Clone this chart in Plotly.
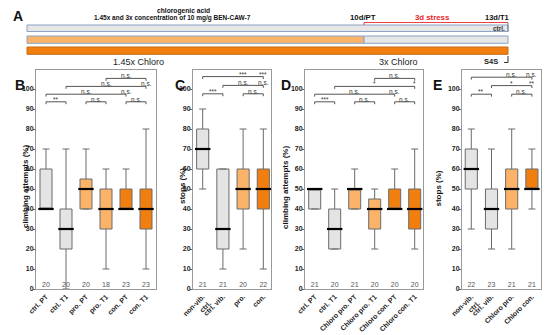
import plotly.graph_objects as go

W, H = 550, 335

# ---------------- data ----------------
b_cats = ["ctrl. PT", "ctrl. T1", "pro. PT", "pro. T1", "con. PT", "con. T1"]
b_min = [40, 0, 40, 10, 40, 10]
b_q1 = [40, 20, 40, 30, 40, 30]
b_med = [40, 30, 50, 40, 40, 40]
b_q3 = [60, 40, 55, 50, 50, 50]
b_max = [70, 70, 70, 60, 60, 80]
b_n = [20, 20, 20, 18, 23, 23]
b_grp = ["ctrl", "ctrl", "pro", "pro", "con", "con"]

c_cats = ["non-vib.<br>ctrl.", "ctrl. vib.", "pro.", "con."]
c_min = [50, 10, 20, 10]
c_q1 = [60, 20, 40, 40]
c_med = [70, 30, 50, 50]
c_q3 = [80, 60, 60, 60]
c_max = [90, 60, 80, 80]
c_n = [21, 21, 20, 22]
c_grp = ["ctrl", "ctrl", "pro", "con"]

d_cats = ["ctrl. PT", "ctrl. T1", "Chloro pro. PT", "Chloro pro. T1", "Chloro con. PT", "Chloro con. T1"]
d_min = [40, 20, 40, 20, 40, 20]
d_q1 = [40, 20, 40, 30, 40, 30]
d_med = [50, 30, 50, 40, 40, 40]
d_q3 = [50, 40, 50, 45, 50, 50]
d_max = [50, 50, 60, 50, 60, 70]
d_n = [21, 20, 21, 20, 20, 20]
d_grp = ["ctrl", "ctrl", "pro", "pro", "con", "con"]

e_cats = ["non-vib.<br>ctrl.", "ctrl. vib.", "Chloro pro.", "Chloro con."]
e_min = [30, 20, 20, 40]
e_q1 = [50, 30, 40, 50]
e_med = [60, 40, 50, 50]
e_q3 = [70, 50, 60, 60]
e_max = [80, 70, 80, 70]
e_n = [22, 23, 21, 21]
e_grp = ["ctrl", "ctrl", "pro", "con"]

# significance comparisons: (from index, to index, level, [(label position, label)])
b_sig = [(0, 1, 0, [(0.5, "**")]), (2, 3, 0, [(2.5, "n.s.")]), (4, 5, 0, [(4.5, "n.s.")]),
         (0, 4, 1, [(2, "n.s."), (4, "n.s.")]), (1, 5, 2, [(3, "n.s."), (5, "n.s.")]),
         (3, 5, 3, [(4, "n.s.")])]
c_sig = [(0, 1, 0, [(0.5, "***")]), (2, 3, 0, [(2.5, "n.s.")]),
         (1, 3, 1, [(2, "n.s."), (3, "n.s.")]), (0, 3, 2, [(2, "***"), (3, "***")])]
d_sig = [(0, 1, 0, [(0.5, "***")]), (2, 3, 0, [(2.5, "n.s.")]), (4, 5, 0, [(4.5, "n.s.")]),
         (0, 4, 1, [(2, "n.s."), (4, "n.s.")]), (1, 5, 2, [(3, "*"), (5, "*")]),
         (3, 5, 3, [(4, "n.s.")])]
e_sig = [(0, 1, 0, [(0.5, "**")]), (2, 3, 0, [(2.5, "n.s.")]),
         (1, 3, 1, [(2, "*"), (3, "**")]), (0, 3, 2, [(2, "n.s."), (3, "n.s.")])]

# ---------------- styling ----------------
COL = {"ctrl": "#E4E4E4", "pro": "#FBB36A", "con": "#F07F10"}
FONT = "Arial, Liberation Sans, sans-serif"
OX, OY = 8, 8  # page offset of the plot div (body margin)

def px(x):
    return (x - OX) / W

def py(y):
    return 1 - (y - OY) / H

panels = [
    dict(cats=b_cats, mn=b_min, q1=b_q1, med=b_med, q3=b_q3, mx=b_max, n=b_n, grp=b_grp,
         sig=b_sig, levels=[93.6, 97.4, 101.3, 105.3], dom=(36, 156), rng=[-0.5, 5.5],
         title="climbing attempts (%)", tx=18.5, ty=187, letter="B", lx=13.5),
    dict(cats=c_cats, mn=c_min, q1=c_q1, med=c_med, q3=c_q3, mx=c_max, n=c_n, grp=c_grp,
         sig=c_sig, levels=[97.6, 101.8, 106.2], dom=(193, 271), rng=[-0.48, 3.38],
         title="stops (%)", tx=175.5, ty=186, letter="C", lx=174),
    dict(cats=d_cats, mn=d_min, q1=d_q1, med=d_med, q3=d_q3, mx=d_max, n=d_n, grp=d_grp,
         sig=d_sig, levels=[93.6, 97.4, 101.3, 105.3], dom=(305, 423), rng=[-0.485, 5.415],
         title="climbing attempts (%)", tx=285, ty=188, letter="D", lx=286),
    dict(cats=e_cats, mn=e_min, q1=e_q1, med=e_med, q3=e_q3, mx=e_max, n=e_n, grp=e_grp,
         sig=e_sig, levels=[97.4, 101.7, 105.9], dom=(462, 541), rng=[-0.46, 3.45],
         title="stops (%)", tx=444, ty=189, letter="E", lx=442.5),
]

fig = go.Figure()
shapes = []
annotations = []
YTOP, YBOT = 70, 289

for i, p in enumerate(panels):
    sfx = "" if i == 0 else str(i + 1)
    xa, ya = "x" + sfx, "y" + sfx
    for k, cat in enumerate(p["cats"]):
        fig.add_trace(go.Box(
            x=[cat], q1=[p["q1"][k]], median=[p["med"][k]], q3=[p["q3"][k]],
            lowerfence=[p["mn"][k]], upperfence=[p["mx"][k]],
            fillcolor=COL[p["grp"][k]], line=dict(color="#6a6a6a", width=1),
            width=0.6, whiskerwidth=0.58, boxpoints=False, hoverinfo="skip",
            xaxis=xa, yaxis=ya))
    fig.add_trace(go.Scatter(
        x=p["cats"], y=p["med"], mode="markers",
        marker=dict(symbol="line-ew", size=11, line=dict(color="black", width=2.2)),
        hoverinfo="skip", xaxis=xa, yaxis=ya))
    fig.add_trace(go.Scatter(
        x=p["cats"], y=[2.0] * len(p["cats"]), mode="text",
        text=[str(v) for v in p["n"]], textfont=dict(size=7, color="#555", family=FONT),
        hoverinfo="skip", xaxis=xa, yaxis=ya))
    for (a, b, lev, labels) in p["sig"]:
        yv = p["levels"][lev]
        shapes.append(dict(type="line", xref=xa, yref=ya, x0=a, x1=b, y0=yv, y1=yv,
                           line=dict(color="#555", width=1)))
        for e in (a, b):
            shapes.append(dict(type="line", xref=xa, yref=ya, x0=e, x1=e, y0=yv, y1=yv - 1.2,
                               line=dict(color="#555", width=1)))
        for (pos, txt_) in labels:
            annotations.append(dict(x=pos, y=yv, xref=xa, yref=ya, text=txt_, showarrow=False,
                                    yanchor="bottom", yshift=-3,
                                    font=dict(size=6.5, color="#333", family=FONT)))
    dom = [px(p["dom"][0]), px(p["dom"][1])]
    fig.layout["xaxis" + sfx] = dict(
        domain=dom, anchor=ya, type="category", categoryorder="array", categoryarray=p["cats"],
        range=p["rng"], tickangle=-45, ticks="", showgrid=False, zeroline=False,
        showline=True, mirror=True, linecolor="#999", linewidth=1, automargin=False,
        tickfont=dict(size=7, color="#222", family=FONT, weight="bold"))
    fig.layout["yaxis" + sfx] = dict(
        domain=[py(YBOT), py(YTOP)], anchor=xa, range=[0, 109.5], automargin=False,
        tickvals=list(range(0, 101, 10)), ticks="outside", ticklen=2, tickcolor="#666",
        ticklabelstandoff=-2,
        showgrid=False, zeroline=False, showline=True, mirror=True, linecolor="#999", linewidth=1,
        tickfont=dict(size=7, color="#222", family=FONT, weight="bold"))
    annotations.append(dict(x=px(p["tx"]), y=py(p["ty"]), xref="paper", yref="paper",
                            text=p["title"], textangle=-90, showarrow=False,
                            font=dict(size=8, color="#111", family=FONT, weight="bold")))
    annotations.append(dict(x=px(p["lx"]), y=py(76.5), xref="paper", yref="paper",
                            text=p["letter"], showarrow=False, borderpad=0,
                            font=dict(size=14, color="#111", family=FONT, weight="bold")))

# ---------------- panel A schematic ----------------
def rect(x0, y0, x1, y1, fill, line):
    shapes.append(dict(type="rect", xref="paper", yref="paper", x0=px(x0), x1=px(x1),
                       y0=py(y1), y1=py(y0), fillcolor=fill, line=dict(color=line, width=1),
                       layer="above"))

def seg(x0, y0, x1, y1, color, w=1):
    shapes.append(dict(type="line", xref="paper", yref="paper", x0=px(x0), x1=px(x1),
                       y0=py(y0), y1=py(y1), line=dict(color=color, width=w)))

def txt(x, y, s, size=7.5, color="#111", bold=True, xanchor="center"):
    annotations.append(dict(x=px(x), y=py(y), xref="paper", yref="paper", text=s,
                            showarrow=False, xanchor=xanchor, yanchor="middle", borderpad=0,
                            font=dict(size=size, color=color, family=FONT,
                                      weight="bold" if bold else "normal")))

rect(27, 25, 508, 31.5, "#E6E6E6", "#8AA3C6")
rect(27, 36, 364, 43.3, "#FBB36A", "#8AA3C6")
rect(364, 36, 508, 43.3, "#E6E6E6", "#8AA3C6")
rect(27, 47, 508, 54.3, "#F07F10", "#C86A10")
seg(364, 22.5, 508, 22.5, "#F04040", 1)
seg(364, 22.5, 364, 25, "#F04040", 1)
seg(508, 22.5, 508, 31.5, "#777", 1)
seg(508, 56, 508, 62.5, "#333", 1)
seg(504, 62.5, 508, 62.5, "#333", 1)

txt(18, 16, "A", size=14)
txt(183, 10.5, "chlorogenic acid", size=6.7)
txt(172, 18, "1.45x and 3x concentration of 10 mg/g BEN-CAW-7", size=6.5)
txt(363, 17.5, "10d/PT", size=7.8)
txt(432, 17.5, "3d stress", size=7.8, color="#E8232A")
txt(497, 17.5, "13d/T1", size=7.5)
txt(506, 28.3, "ctrl.", size=6.5, color="#333", xanchor="right")
txt(499, 61.5, "S4S", size=7.5, color="#222", xanchor="right")
txt(138, 62, "1.45x Chloro", size=9, color="#222", bold=False)
txt(398, 62, "3x Chloro", size=9, color="#222", bold=False)

fig.update_layout(
    width=W, height=H, margin=dict(l=0, r=0, t=0, b=0, pad=0), autosize=False,
    paper_bgcolor="white", plot_bgcolor="white", showlegend=False,
    boxmode="overlay", shapes=shapes, annotations=annotations,
    font=dict(family=FONT))

fig.write_html("out.html")
